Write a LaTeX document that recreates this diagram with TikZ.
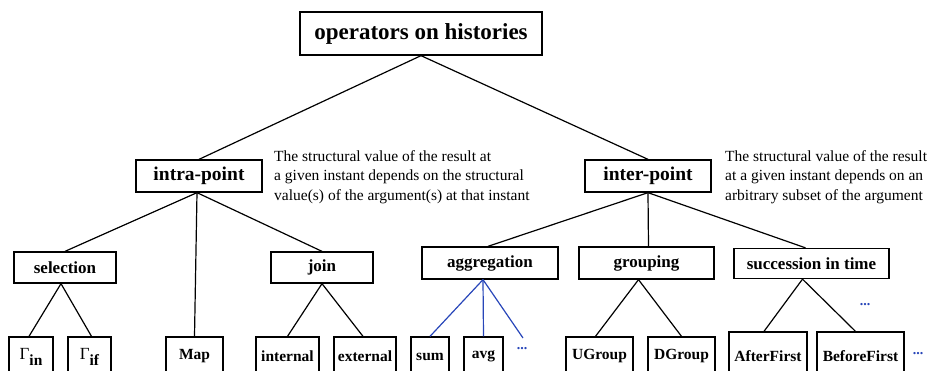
\documentclass[tikz,border=0pt]{standalone}
\usepackage{fontspec}
\setmainfont{Liberation Serif}
\definecolor{linkblue}{RGB}{40,70,185}
\begin{document}
\begin{tikzpicture}[x=1pt,y=-1pt,
  box/.style={draw,line width=1.3pt,inner sep=0pt,font=\bfseries},
  rootbox/.style={box,minimum width=242pt,minimum height=43pt,font=\bfseries\fontsize{23}{27}\selectfont},
  kindbox/.style={box,minimum width=126pt,minimum height=32pt,font=\bfseries\fontsize{19.5}{23}\selectfont},
  opbox/.style={box,minimum height=31pt,font=\bfseries\fontsize{17}{20}\selectfont},
  leafbox/.style={box,font=\bfseries\fontsize{15.5}{18}\selectfont},
  note/.style={anchor=west,align=left,inner sep=0pt,font=\fontsize{15.5}{19.5}\selectfont},
  conn/.style={line width=1.2pt},
  bconn/.style={line width=1.2pt,draw=linkblue},
  more/.style={text=linkblue,inner sep=0pt,font=\bfseries\fontsize{14}{14}\selectfont}]
\useasboundingbox (0,0) rectangle (930,370);
\clip (0,0) rectangle (930,370);

% root and the two families
\node[rootbox] (root) at (421,33.5) {operators on histories};
\node[kindbox] (intra) at (199,176) {intra-point};
\node[kindbox] (inter) at (648,176) {inter-point};

\node[note] (intranote) at (274,177) {The structural value of the result at\\a given instant depends on the structural\\value(s) of the argument(s) at that instant};
\node[note] (internote) at (725,177) {The structural value of the result\\at a given instant depends on an\\arbitrary subset of the argument};

% operator classes
\node[opbox,minimum width=102pt] (sel) at (65,267.5) {selection};
\node[opbox,minimum width=102pt] (join) at (322,267.5) {join};
\node[opbox,minimum width=136pt,minimum height=32pt] (agg) at (490,263) {aggregation};
\node[opbox,minimum width=135pt,minimum height=32pt] (grp) at (646.5,263) {grouping};
\node[opbox,minimum width=155pt,minimum height=30pt] (succ) at (811.5,263.5) {succession in time};

% concrete operators (boxes run past the lower edge)
\node[leafbox,minimum width=44pt,minimum height=39pt] (gin) at (31,356.5) {{\mdseries\fontsize{17}{18}\selectfont Γ}\raisebox{-6pt}{in}};
\node[leafbox,minimum width=43pt,minimum height=39pt] (gif) at (89.5,356.5) {{\mdseries\fontsize{17}{18}\selectfont Γ}\raisebox{-6pt}{if}};
\node[leafbox,minimum width=57pt,minimum height=39pt] (map) at (194.5,356.5) {Map};
\node[leafbox,minimum width=63pt,minimum height=39pt] (internal) at (287.5,356.5) {internal};
\node[leafbox,minimum width=62pt,minimum height=39pt] (external) at (365,356.5) {external};
\node[leafbox,minimum width=38pt,minimum height=39pt] (sum) at (430,356.5) {sum};
\node[leafbox,minimum width=39pt,minimum height=39pt] (avg) at (483.5,356.5) {avg};
\node[leafbox,minimum width=67pt,minimum height=39pt] (ugroup) at (599.5,356.5) {UGroup};
\node[leafbox,minimum width=67pt,minimum height=39pt] (dgroup) at (681.5,356.5) {DGroup};
\node[leafbox,minimum width=78pt,minimum height=49pt] (afterfirst) at (768,356.5) {AfterFirst};
\node[leafbox,minimum width=87pt,minimum height=49pt] (beforefirst) at (860.5,356.5) {BeforeFirst};

% further operators
\node[more] (aggmore) at (522,349) {...};
\coordinate (aggmoretop) at (523,338);
\node[more] (succmore) at (865,305) {...};
\node[more] (lastmore) at (918,354) {...};

% connectors
\draw[conn] (root.south) -- (intra.north);
\draw[conn] (root.south) -- (inter.north);

\draw[conn] ([xshift=-2pt]intra.south) -- (sel.north);
\draw[conn] ([xshift=-2pt]intra.south) -- (map.north);
\draw[conn] ([xshift=-2pt]intra.south) -- (join.north);

\draw[conn] ([xshift=-4pt]sel.south) -- ([xshift=-2pt]gin.north);
\draw[conn] ([xshift=-4pt]sel.south) -- ([xshift=2pt]gif.north);
\draw[conn] (join.south) -- (internal.north);
\draw[conn] (join.south) -- ([xshift=-2pt]external.north);

\draw[conn] (inter.south) -- ([xshift=-2pt]agg.north);
\draw[conn] (inter.south) -- ([xshift=2pt]grp.north);
\draw[conn] (inter.south) -- ([xshift=-6pt]succ.north);

\draw[bconn] ([xshift=-7pt]agg.south) -- (sum.north);
\draw[bconn] ([xshift=-7pt]agg.south) -- (avg.north);
\draw[bconn] ([xshift=-7pt]agg.south) -- (aggmoretop);

\draw[conn] ([xshift=-8pt]grp.south) -- ([xshift=-4pt]ugroup.north);
\draw[conn] ([xshift=-8pt]grp.south) -- (dgroup.north);
\draw[conn] ([xshift=-9pt]succ.south) -- ([xshift=-4pt]afterfirst.north);
\draw[conn] ([xshift=-9pt]succ.south) -- ([xshift=-5pt]beforefirst.north);
\end{tikzpicture}
\end{document}
